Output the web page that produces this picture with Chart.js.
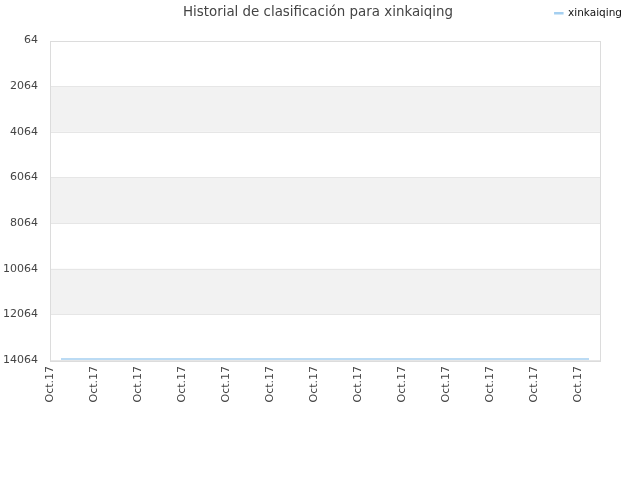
<!DOCTYPE html>
<html>
<head>
<meta charset="utf-8">
<script src="https://cdn.jsdelivr.net/npm/chart.js@4"></script>
<style>
  html, body { margin: 0; padding: 0; background: #fff; }
  #wrap { width: 640px; height: 480px; }
</style>
</head>
<body>
<div id="wrap"><canvas id="rankChart" width="640" height="480"></canvas></div>
<script>
// every label reads Oct.17; only every 4th slot gets printed
var dateLabels = [
  'Oct.17', 'Oct.17', 'Oct.17', 'Oct.17', 'Oct.17', 'Oct.17', 'Oct.17', 'Oct.17', 'Oct.17', 'Oct.17',
  'Oct.17', 'Oct.17', 'Oct.17', 'Oct.17', 'Oct.17', 'Oct.17', 'Oct.17', 'Oct.17', 'Oct.17', 'Oct.17',
  'Oct.17', 'Oct.17', 'Oct.17', 'Oct.17', 'Oct.17', 'Oct.17', 'Oct.17', 'Oct.17', 'Oct.17', 'Oct.17',
  'Oct.17', 'Oct.17', 'Oct.17', 'Oct.17', 'Oct.17', 'Oct.17', 'Oct.17', 'Oct.17', 'Oct.17', 'Oct.17',
  'Oct.17', 'Oct.17', 'Oct.17', 'Oct.17', 'Oct.17', 'Oct.17', 'Oct.17', 'Oct.17', 'Oct.17', 'Oct.17',
  'Oct.17'
];
var rankValues = [
  null, 14020, 14020, 14020, 14020, 14020, 14020, 14020, 14020, 14020,
  14020, 14020, 14020, 14020, 14020, 14020, 14020, 14020, 14020, 14020,
  14020, 14020, 14020, 14020, 14020, 14020, 14020, 14020, 14020, 14020,
  14020, 14020, 14020, 14020, 14020, 14020, 14020, 14020, 14020, 14020,
  14020, 14020, 14020, 14020, 14020, 14020, 14020, 14020, 14020, 14020,
  null
];
var seriesName = 'xinkaiqing';
var chartTitle = 'Historial de clasificación para xinkaiqing';
var yMin = 64;
var yMax = 14064;
var yStep = 2000;
// bands painted grey (from, to)
var bandRanges = [[2064, 4064], [6064, 8064], [10064, 12064]];

var fontFamily = '"DejaVu Sans", Verdana, sans-serif';

// grey stripes behind the plot, plus the title on the legend row
var bandsPlugin = {
    id: 'bands',
    beforeDatasetsDraw: function(chart) {
        var ctx = chart.ctx;
        var area = chart.chartArea;
        var y = chart.scales.y;
        ctx.save();
        ctx.fillStyle = '#f2f2f2';
        bandRanges.forEach(function(b) {
            var top = y.getPixelForValue(b[0]);
            var bot = y.getPixelForValue(b[1]);
            ctx.fillRect(area.left, top, area.right - area.left, bot - top);
        });
        // horizontal lines on top of the bands
        ctx.strokeStyle = '#e6e6e6';
        ctx.lineWidth = 1;
        y.ticks.forEach(function(t) {
            var py = Math.round(y.getPixelForValue(t.value)) + 0.5;
            ctx.beginPath();
            ctx.moveTo(area.left, py);
            ctx.lineTo(area.right, py);
            ctx.stroke();
        });
        // plot frame
        ctx.strokeStyle = '#dcdcdc';
        ctx.strokeRect(Math.round(area.left) + 0.5, Math.round(area.top) + 0.5,
            Math.round(area.right - area.left), Math.round(area.bottom - area.top));
        ctx.restore();
    },
    afterDraw: function(chart) {
        var ctx = chart.ctx;
        ctx.save();
        ctx.font = '13.4px ' + fontFamily;
        ctx.fillStyle = '#444';
        ctx.textAlign = 'center';
        ctx.textBaseline = 'middle';
        ctx.fillText(chartTitle, 318, 13);
        ctx.restore();
    }
};

var rankChart = new Chart(document.getElementById('rankChart'), {
    type: 'line',
    data: {
        labels: dateLabels,
        datasets: [{
            label: seriesName,
            data: rankValues,
            borderColor: '#a4cff0',
            backgroundColor: '#a4cff0',
            borderWidth: 1.5,
            pointRadius: 0,
            tension: 0,
            spanGaps: false
        }]
    },
    options: {
        responsive: false,
        animation: false,
        layout: {
            padding: { left: 0, right: 10, top: 0, bottom: 0 }
        },
        plugins: {
            title: { display: false },
            tooltip: { enabled: false },
            legend: {
                position: 'top',
                align: 'end',
                labels: {
                    boxWidth: 8,
                    boxHeight: 1,
                    padding: 8,
                    color: '#111',
                    font: { family: fontFamily, size: 10.5 }
                }
            }
        },
        scales: {
            x: {
                offset: false,
                grid: { display: false, drawTicks: false },
                border: { display: false },
                afterFit: function(axis) { axis.height = 120; },
                ticks: {
                    autoSkip: false,
                    minRotation: 90,
                    maxRotation: 90,
                    padding: 6,
                    color: '#444',
                    font: { family: fontFamily, size: 11 },
                    callback: function(val, index) {
                        return index % 4 === 0 ? this.getLabelForValue(val) : '';
                    }
                }
            },
            // empty top axis that only reserves the gap under the legend
            xGap: {
                type: 'category',
                position: 'top',
                display: true,
                afterFit: function(axis) { axis.height = 12; },
                grid: { display: false, drawTicks: false },
                border: { display: false },
                ticks: { display: false }
            },
            y: {
                reverse: true,
                min: yMin,
                max: yMax,
                afterFit: function(axis) { axis.width = 50; },
                grid: { display: false, drawTicks: false },
                border: { display: false },
                ticks: {
                    stepSize: yStep,
                    padding: 12,
                    color: '#444',
                    font: { family: fontFamily, size: 11 },
                    callback: function(val) { return String(val); }
                }
            },
            // empty right-hand axis that only reserves the gap beside the plot
            yGap: {
                position: 'right',
                display: true,
                afterFit: function(axis) { axis.width = 30; },
                grid: { display: false, drawTicks: false },
                border: { display: false },
                ticks: { display: false }
            }
        }
    },
    plugins: [bandsPlugin]
});
</script>
</body>
</html>
